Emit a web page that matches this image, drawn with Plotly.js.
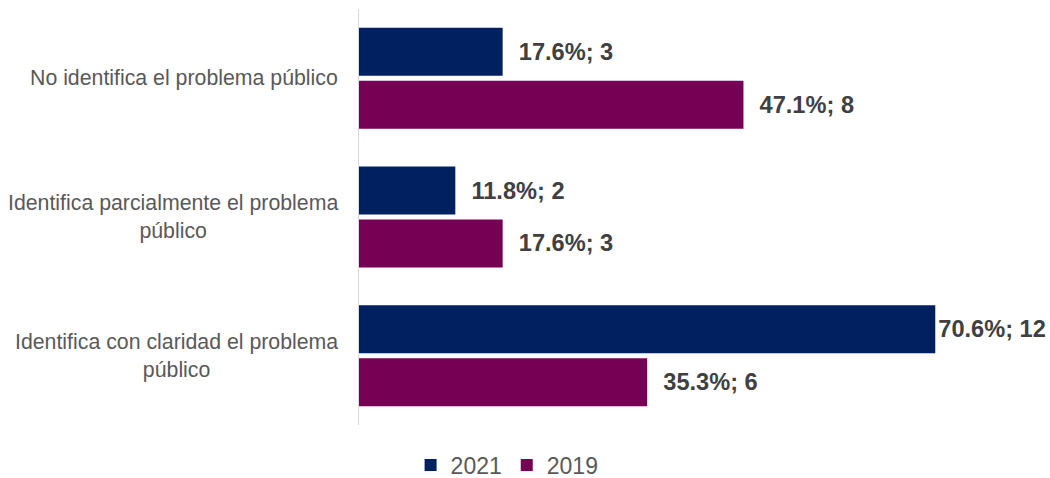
<!DOCTYPE html>
<html>
<head>
<meta charset="utf-8">
<script src="https://cdn.plot.ly/plotly-3.0.1.min.js"></script>
<style>html,body{margin:0;padding:0;background:#fff;}#chart{width:1050px;height:478px;}</style>
</head>
<body>
<div id="chart"></div>
<script>
const categories = [
  "No identifica el problema público",
  "Identifica parcialmente el problema público",
  "Identifica con claridad el problema público"
];
const categoryLabels = [
  "No identifica el problema público",
  "Identifica parcialmente el problema<br>público",
  "Identifica con claridad el problema<br>público"
];
const pct2021 = [17.6, 11.8, 70.6];
const count2021 = [3, 2, 12];
const pct2019 = [47.1, 17.6, 35.3];
const count2019 = [8, 3, 6];

function labels(p, c) {
  return p.map((v, i) => (v < 60 ? "\u00a0\u00a0" : "") + v.toFixed(1) + "%; " + c[i]);
}

const FONT = "Liberation Sans, Arial, sans-serif";
const textfont = {family: FONT, size: 23.6, color: "#404040", weight: "bold"};

const traces = [
  {type: "bar", orientation: "h", name: "2021", y: categories, x: pct2021,
   text: labels(pct2021, count2021), textposition: "outside", textfont: textfont,
   cliponaxis: false, marker: {color: "#002060"}, hoverinfo: "none"},
  {type: "bar", orientation: "h", name: "2019", y: categories, x: pct2019,
   text: labels(pct2019, count2019), textposition: "outside", textfont: textfont,
   cliponaxis: false, marker: {color: "#760054"}, hoverinfo: "none"}
];

const annotations = categories.map((c, i) => ({
  xref: "paper", yref: "y", x: -19 / 653, y: c, xanchor: "right", yanchor: "middle",
  align: "center", showarrow: false, text: categoryLabels[i],
  font: {family: FONT, size: 21.3, color: "#595959"}
}));

const layout = {
  width: 1050, height: 478,
  margin: {l: 359, r: 38, t: 9, b: 53, autoexpand: false},
  paper_bgcolor: "#fff", plot_bgcolor: "#fff",
  barmode: "group", bargap: 0.236, bargroupgap: 0.094,
  showlegend: true,
  legend: {orientation: "h", x: 0.079, xanchor: "left", y: -0.096, yanchor: "middle",
           font: {family: FONT, size: 23, color: "#595959"}, traceorder: "normal"},
  xaxis: {range: [0, 80], showgrid: false, zeroline: false, showticklabels: false, showline: false, fixedrange: true},
  yaxis: {autorange: "reversed", showgrid: false, zeroline: false, showticklabels: false,
          showline: true, linecolor: "#d9d9d9", linewidth: 1, ticks: "", fixedrange: true},
  annotations: annotations
};

Plotly.newPlot("chart", traces, layout, {displayModeBar: false, staticPlot: true});
</script>
</body>
</html>
